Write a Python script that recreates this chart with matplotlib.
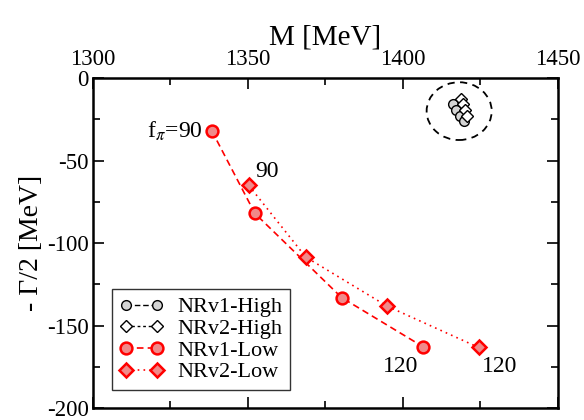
import numpy as np
import matplotlib
matplotlib.use("Agg")
from matplotlib import pyplot as plt
from matplotlib.patches import Ellipse
from matplotlib.ticker import MultipleLocator

plt.rcParams["font.family"] = ["Liberation Serif", "DejaVu Serif"]
plt.rcParams["mathtext.fontset"] = "stix"
plt.rcParams["axes.unicode_minus"] = False

# NRv1 / NRv2, fits High e Low (M, -Gamma/2)
m_v1_high = [1416.1, 1417.1, 1418.4, 1419.7]
g_v1_high = [-15.7, -19.3, -22.9, -25.9]
m_v2_high = [1418.7, 1419.4, 1420.0, 1420.6]
g_v2_high = [-12.7, -15.7, -19.3, -22.9]
m_v1_low = [1338.4, 1352.3, 1380.3, 1406.5]
g_v1_low = [-32.0, -82.0, -133.0, -162.7]
m_v2_low = [1350.3, 1368.7, 1394.8, 1424.5]
g_v2_low = [-65.0, -108.4, -138.0, -163.2]

fig = plt.figure(figsize=(5.84, 4.20), dpi=100)
ax = fig.add_axes([0.159, 0.028, 0.796, 0.786])

ax.plot(m_v1_high, g_v1_high, ls=(0, (4, 2)), color="black", lw=1.0, marker="o", ms=7,
        mfc="#d4d4d4", mec="black", mew=1.0, label="NRv1-High")
ax.plot(m_v2_high, g_v2_high, ls=(0, (2, 2)), color="black", lw=1.0, marker="D", ms=6,
        mfc="white", mec="black", mew=1.0, label="NRv2-High")
ax.plot(m_v1_low, g_v1_low, ls=(0, (4, 2.5)), color="red", lw=1.2, marker="o", ms=8.5,
        mfc="#f08a8a", mec="red", mew=1.8, label="NRv1-Low")
ax.plot(m_v2_low, g_v2_low, ls=(0, (1, 2.5)), color="red", lw=1.2, marker="D", ms=7.5,
        mfc="#f08a8a", mec="red", mew=1.8, label="NRv2-Low")

ax.add_patch(Ellipse((1418.2, -20.0), 21.0, 35.0, fill=False, ls=(0, (4, 3)),
                     lw=1.3, ec="black"))

ax.text(1335.5, -32.0, r"f$_\pi$=90", fontsize=17, ha="right", va="center")
ax.text(1352.5, -56.5, "90", fontsize=17, ha="left", va="center")
ax.text(1405.0, -174.5, "120", fontsize=17, ha="right", va="center")
ax.text(1425.5, -174.5, "120", fontsize=17, ha="left", va="center")

ax.set_xlim(1300, 1450)
ax.set_ylim(-200, 0)
ax.xaxis.set_major_locator(MultipleLocator(50))
ax.xaxis.set_minor_locator(MultipleLocator(25))
ax.yaxis.set_major_locator(MultipleLocator(50))
ax.yaxis.set_minor_locator(MultipleLocator(25))
ax.tick_params(which="both", direction="in", top=True, bottom=True, left=True, right=True,
               labeltop=True, labelbottom=False, labelsize=16.5, width=1.2, pad=3)
ax.tick_params(axis="x", pad=6)
ax.tick_params(which="major", length=8)
ax.tick_params(which="minor", length=5)
for s in ax.spines.values():
    s.set_linewidth(1.8)

ax.xaxis.set_label_position("top")
ax.set_xlabel("M [MeV]", fontsize=21, labelpad=3)
ax.set_ylabel("- Γ/2 [MeV]", fontsize=20, labelpad=2)

leg = ax.legend(loc="lower left", bbox_to_anchor=(0.041, 0.055), numpoints=2,
                fontsize=16, frameon=True, fancybox=False, edgecolor="black",
                handlelength=2.0, handletextpad=0.6, borderpad=0.35, labelspacing=0.05,
                borderaxespad=0.0)
leg.get_frame().set_linewidth(1.0)

fig.savefig("out.png", dpi=100)
